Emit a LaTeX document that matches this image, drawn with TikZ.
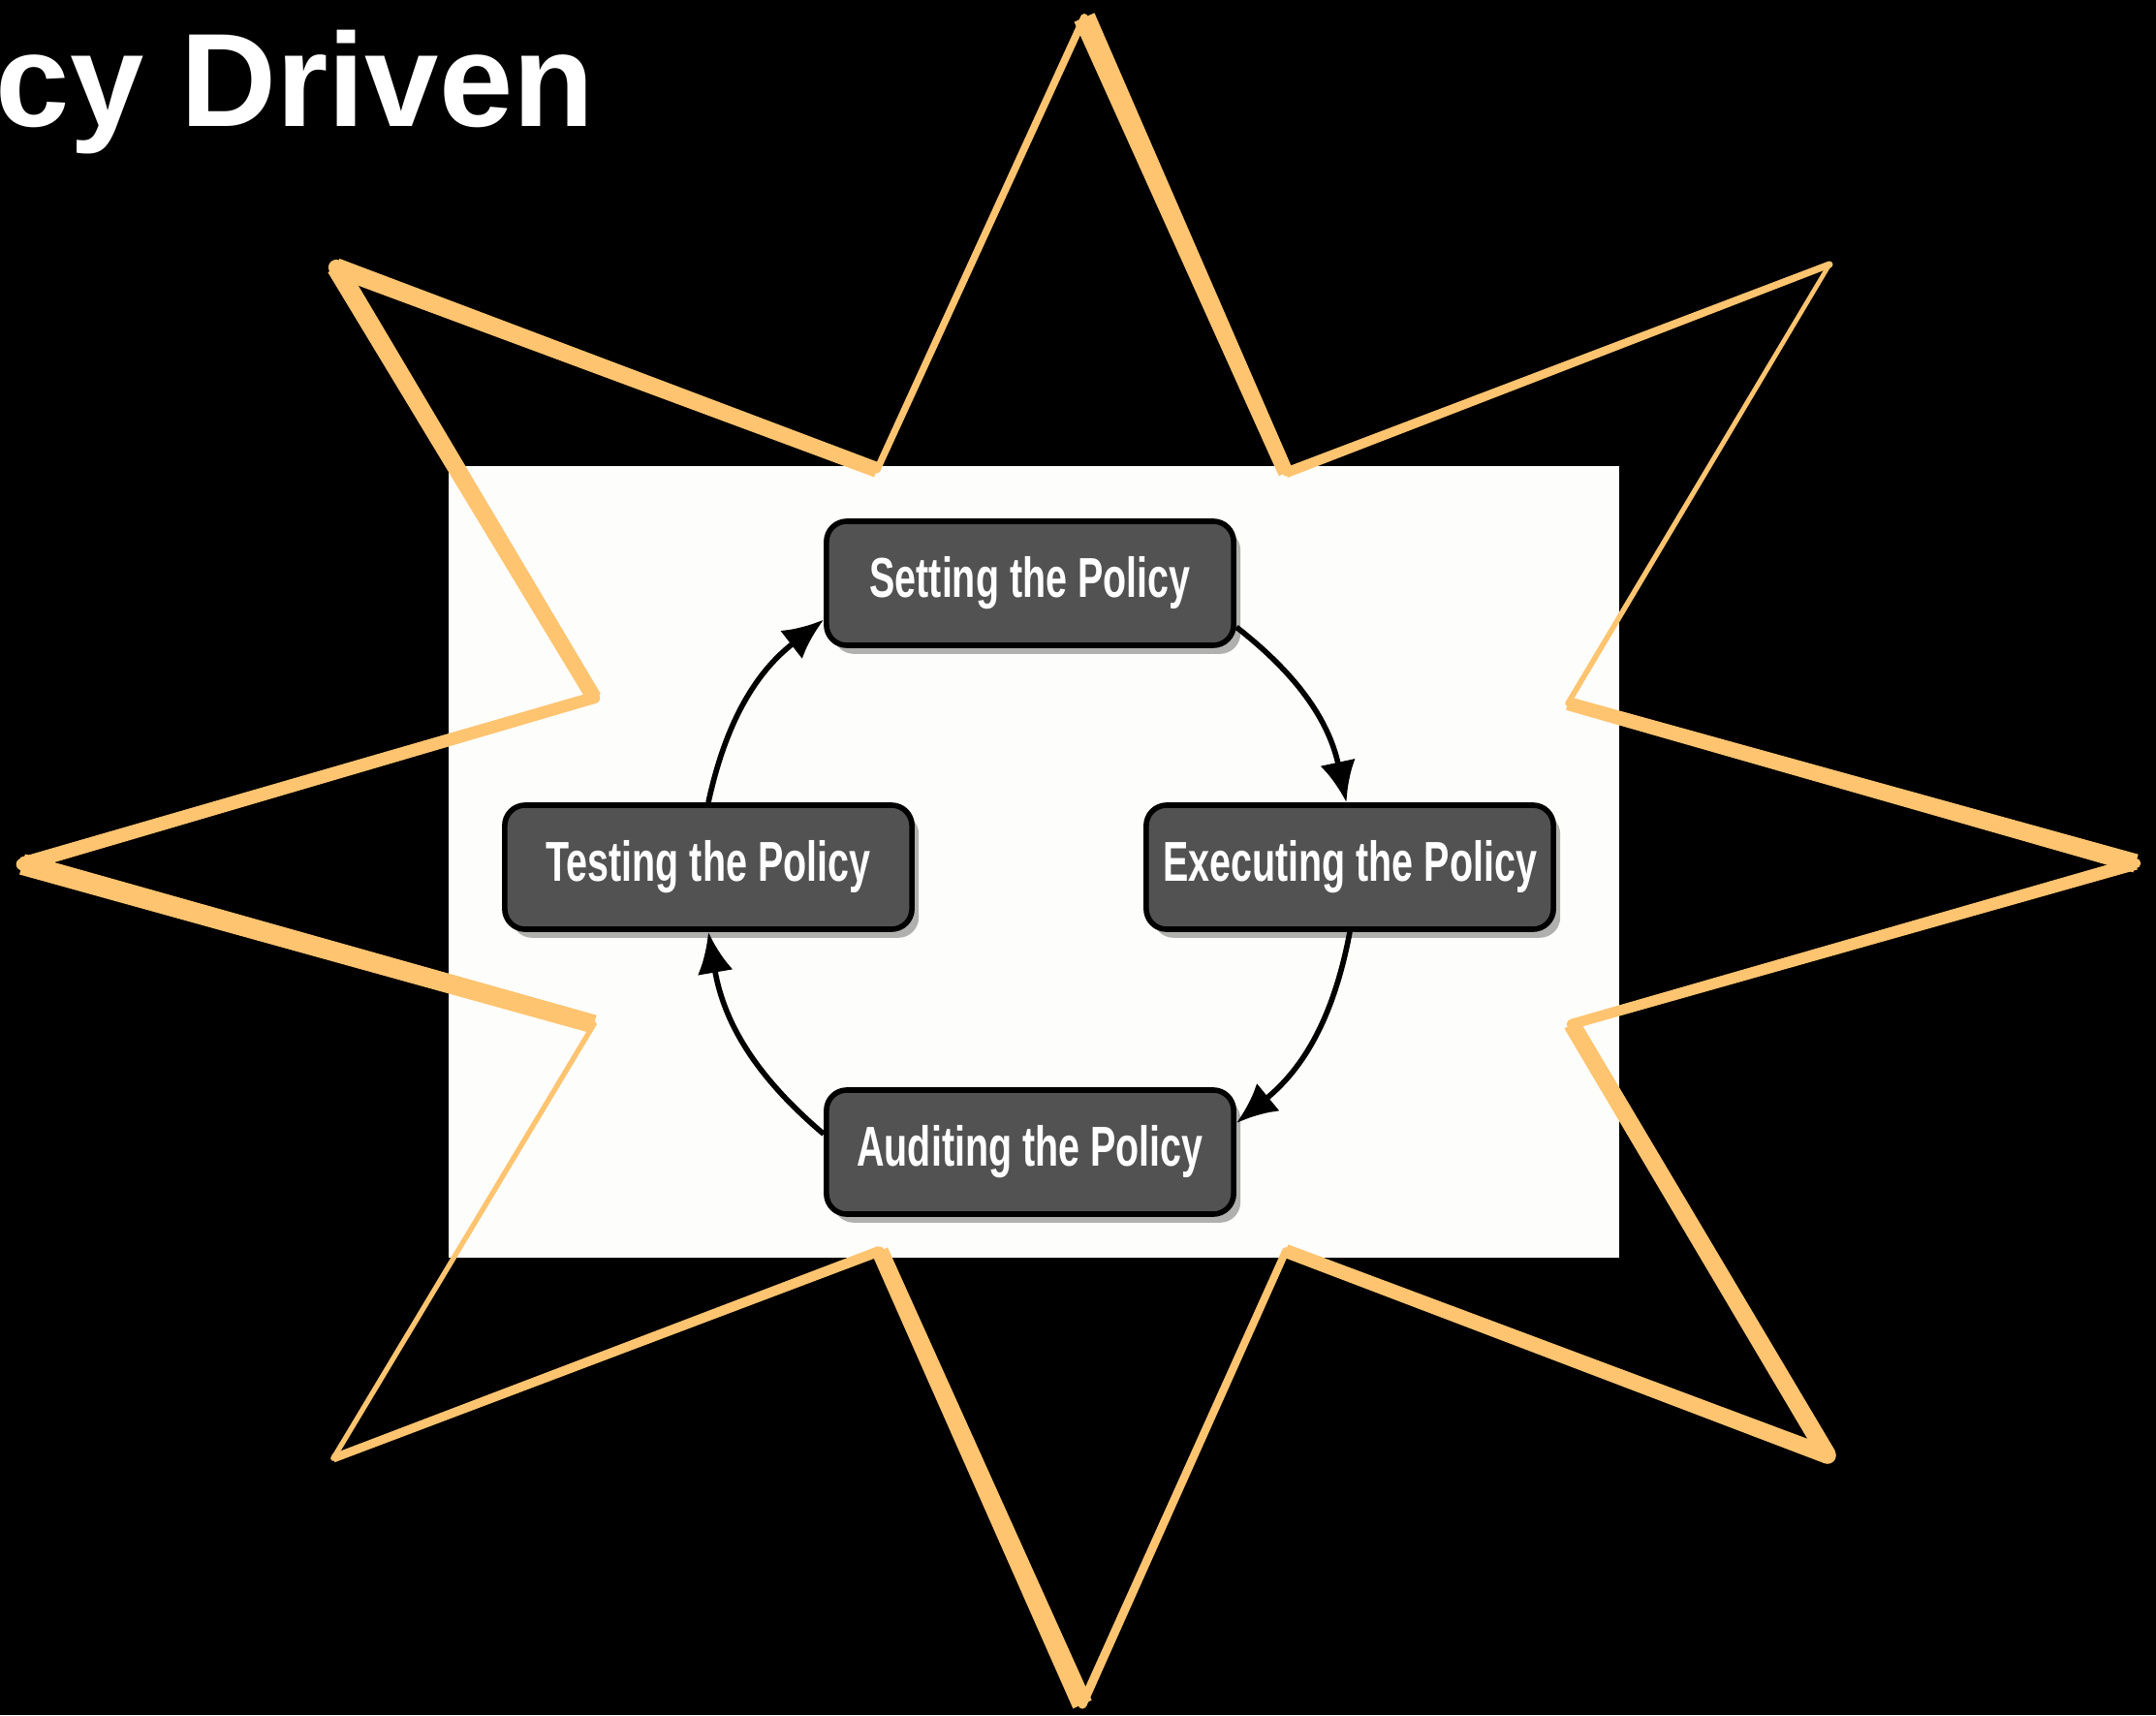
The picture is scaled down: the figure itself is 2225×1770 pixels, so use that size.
\documentclass[tikz,border=0pt]{standalone}
\usepackage{fontspec}
\setmainfont{Liberation Sans}
\newfontfamily\narrowfont[FakeStretch=0.68]{Liberation Sans}
\usetikzlibrary{arrows.meta,shadows,calc}

\definecolor{starorange}{RGB}{255,196,112}
\definecolor{boxgray}{RGB}{82,82,82}
\definecolor{paper}{RGB}{253,253,251}

\tikzset{
  policybox/.style={draw=black, line width=1.6pt, rounded corners=6pt, fill=boxgray,
    text=white, minimum width=4.2cm, minimum height=1.28cm, inner sep=0pt,
    font=\narrowfont\bfseries\fontsize{16.5pt}{19pt}\selectfont,
    drop shadow={shadow xshift=2pt, shadow yshift=-2.5pt, opacity=0.3, fill=black}},
  flowarrow/.style={-{Latex[length=12pt,width=10.5pt]}, line width=1.6pt},
  starink/.style={fill=starorange}
}

\begin{document}
\begin{tikzpicture}[x=0.01cm, y=-0.01cm]
\useasboundingbox (0,0) rectangle (2225,1770);
\fill[black] (0,0) rectangle (2225,1770);

% Title
\node[anchor=base east, inner sep=0pt, text=white,
  font=\bfseries\fontsize{39pt}{47pt}\selectfont] (title) at (614,131) {cy Driven};

% Slide picture
\fill[paper] (463,481) rectangle (1671,1298);

% Star points
\foreach \n/\px/\py in {1/1119/18, 2/1327/488, 3/1888/273, 4/1618/726,
                        5/2204/891, 6/1622/1057, 7/1886/1502, 8/1327/1291,
                        9/1117/1759, 10/908/1291, 11/344/1505, 12/613/1057,
                        13/23/892, 14/613/720, 15/347/276, 16/905/485}
  \coordinate (s\n) at (\px,\py);

% Star outline, tapered brush strokes (width at start / at end)
\foreach \a/\b/\wa/\wb in {1/2/6.5pt/4.5pt, 2/3/3.0pt/2.0pt, 3/4/1.3pt/1.6pt,
                           4/5/4.0pt/5.5pt, 5/6/3.8pt/3.0pt, 6/7/5.0pt/5.2pt,
                           7/8/5.0pt/4.0pt, 8/9/2.2pt/2.6pt, 9/10/6.0pt/5.0pt,
                           10/11/3.0pt/2.5pt, 11/12/1.5pt/1.5pt, 12/13/5.5pt/6.2pt,
                           13/14/4.2pt/3.5pt, 14/15/4.5pt/5.7pt, 15/16/5.5pt/4.5pt,
                           16/1/2.0pt/2.2pt}
  \fill[starink] ($(s\a)!\wa/2!90:(s\b)$) -- ($(s\b)!\wb/2!-90:(s\a)$)
              -- ($(s\b)!\wb/2!90:(s\a)$) -- ($(s\a)!\wa/2!-90:(s\b)$) -- cycle;

% Star corners
\foreach \n/\r in {1/1.1pt, 2/1.0pt, 3/1.0pt, 4/0.8pt, 5/1.5pt, 6/1.5pt, 7/2.5pt, 8/1.1pt,
                   9/1.3pt, 10/1.3pt, 11/0.8pt, 12/0.8pt, 13/1.8pt, 14/1.8pt, 15/2.3pt, 16/1.0pt}
  \fill[starink] (s\n) circle (\r);

% Policy cycle
\node[policybox] (set) at (1063,602) {Setting the Policy};
\node[policybox] (exe) at (1393,895) {Executing the Policy};
\node[policybox] (aud) at (1063,1189) {Auditing the Policy};
\node[policybox] (tst) at (731,895) {Testing the Policy};

\draw[flowarrow] (set.-12) to[bend left=20] (exe.93);
\draw[flowarrow] (exe.south) to[bend left=20] (aud.8);
\draw[flowarrow] (aud.175) to[bend left=20] (tst.south);
\draw[flowarrow] (tst.north) to[bend left=20] (set.190);

\end{tikzpicture}
\end{document}
